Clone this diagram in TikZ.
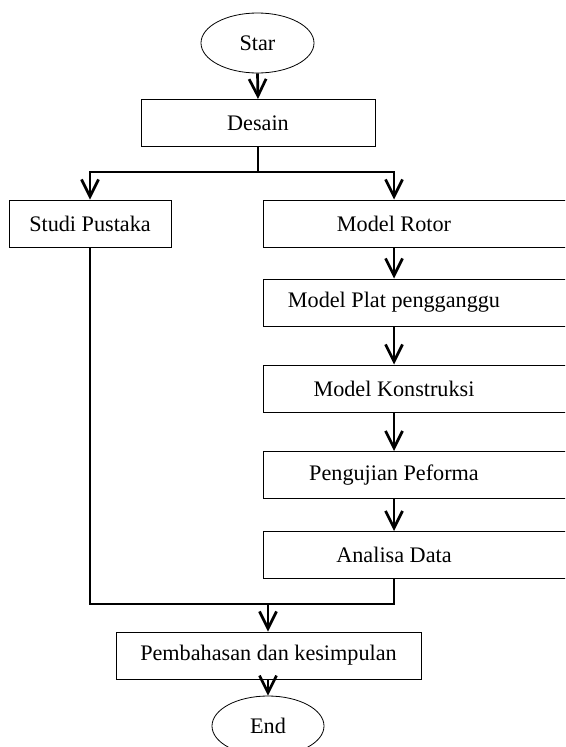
\documentclass[tikz,border=0pt]{standalone}
\usepackage{fontspec}
\setmainfont{Liberation Serif}
\usetikzlibrary{arrows.meta,shapes.geometric}
\begin{document}
\begin{tikzpicture}[x=1pt,y=-1pt,
  every node/.style={font=\fontsize{22.2}{26}\selectfont, inner sep=0pt},
  box/.style={draw, line width=1pt, minimum height=47pt},
  oval/.style={draw, ellipse, line width=0.8pt, minimum width=113pt, minimum height=60pt},
  conn/.style={line width=2.7pt},
  arr/.style={conn, -{Straight Barb[length=17pt,width=17pt,line width=2.7pt]}}
]
\clip (0,0) rectangle (565,747);
\fill[white] (0,0) rectangle (565,747);
% nodes
\node[oval] (start) at (257.5,43) {Star};
\node[box, minimum width=234pt] (desain) at (258,123) {Desain};
\node[box, minimum width=162pt] (studi) at (90,223.5) {Studi Pustaka};
\node[box, minimum width=313pt] (rotorbox) at (419.5,223.5) {};
\node (rotor) at (394,223.5) {Model Rotor};
\node[box, minimum width=313pt] (platbox) at (419.5,302.5) {};
\node (plat) at (394,302.5) {Model Plat pengganggu};
\node[box, minimum width=313pt] (konstbox) at (419.5,388.5) {};
\node (konst) at (394,388.5) {Model Konstruksi};
\node[box, minimum width=313pt] (pengbox) at (419.5,475) {};
\node (peng) at (394,475) {Pengujian Peforma};
\node[box, minimum width=313pt] (analisabox) at (419.5,555) {};
\node (analisa) at (394,555) {Analisa Data};
\node[box, minimum width=305pt] (pemb) at (268.5,655.5) {Pembahasan dan kesimpulan};
\node[oval, minimum width=112pt] (end) at (268,726) {End};
% coordinates
\coordinate (split) at (258,172);
\coordinate (merge) at (268,604);
% connectors
\draw[arr] (start.south) -- (desain.north);
\draw[conn] (desain.south) -- (split);
\draw[arr] (split) -| (studi.north);
\draw[arr] (split) -| (rotorbox.north -| rotor);
\draw[arr] (rotorbox.south -| rotor) -- (platbox.north -| plat);
\draw[arr] (platbox.south -| plat) -- (konstbox.north -| konst);
\draw[arr] (konstbox.south -| konst) -- (pengbox.north -| peng);
\draw[arr] (pengbox.south -| peng) -- (analisabox.north -| analisa);
\draw[conn] (studi.south) |- (merge);
\draw[conn] (analisabox.south -| analisa) |- (merge);
\draw[arr] (merge) -- (pemb.north -| merge);
\draw[arr] (pemb.south -| end) -- (end.north);
\end{tikzpicture}
\end{document}
